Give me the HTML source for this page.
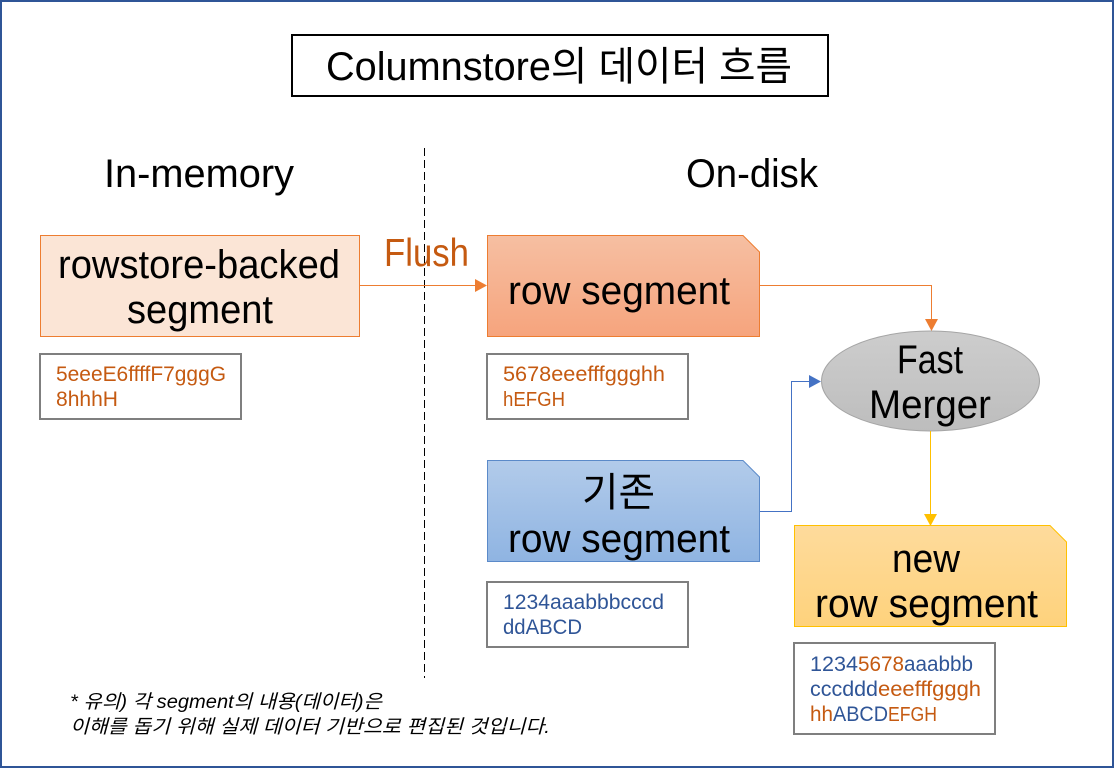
<!DOCTYPE html>
<html lang="ko">
<head>
<meta charset="utf-8">
<style>
html,body{margin:0;padding:0;background:#fff;width:1114px;height:768px;overflow:hidden}
svg{display:block}
text{font-family:"Liberation Sans","Noto Sans CJK KR",sans-serif}
.b{fill:#000;font-size:40px}
.o{fill:#c55a11;font-size:21px}
.u{fill:#2f5597;font-size:21px}
</style>
</head>
<body>
<svg width="1114" height="768" viewBox="0 0 1114 768" xmlns="http://www.w3.org/2000/svg">
<defs>
<linearGradient id="go" x1="0" y1="0" x2="0" y2="1"><stop offset="0" stop-color="#f6bfa2"/><stop offset="1" stop-color="#f6a47d"/></linearGradient>
<linearGradient id="gb" x1="0" y1="0" x2="0" y2="1"><stop offset="0" stop-color="#b2cbea"/><stop offset="1" stop-color="#8fb4e2"/></linearGradient>
<linearGradient id="gy" x1="0" y1="0" x2="0" y2="1"><stop offset="0" stop-color="#fedb9c"/><stop offset="1" stop-color="#fed27c"/></linearGradient>
<linearGradient id="gg" x1="0" y1="0" x2="0" y2="1"><stop offset="0" stop-color="#cdcdcd"/><stop offset="1" stop-color="#bdbdbd"/></linearGradient>
</defs>
<rect x="1" y="1" width="1112" height="766" fill="#fff" stroke="#2f5597" stroke-width="2"/>

<rect x="292" y="35" width="536" height="61" fill="#fff" stroke="#000" stroke-width="2"/>
<text x="326" y="80" class="b" textLength="466" lengthAdjust="spacingAndGlyphs">Columnstore의 데이터 흐름</text>

<text x="104" y="187" class="b" textLength="190" lengthAdjust="spacingAndGlyphs">In-memory</text>
<text x="686" y="187" class="b" textLength="132" lengthAdjust="spacingAndGlyphs">On-disk</text>

<line x1="424.5" y1="148" x2="424.5" y2="678" stroke="#000" stroke-width="1" stroke-dasharray="8 4"/>

<rect x="40.5" y="235.5" width="319" height="101" fill="#fbe5d6" stroke="#ed7d31" stroke-width="1"/>
<text x="58" y="278" class="b" textLength="282" lengthAdjust="spacingAndGlyphs">rowstore-backed</text>
<text x="127" y="323" class="b" textLength="146" lengthAdjust="spacingAndGlyphs">segment</text>

<text x="384" y="266" fill="#c55a11" font-size="39" textLength="85" lengthAdjust="spacingAndGlyphs">Flush</text>

<line x1="360" y1="285.5" x2="476" y2="285.5" stroke="#ed7d31" stroke-width="1"/>
<polygon points="475,279 487,285.5 475,292" fill="#ed7d31"/>

<rect x="40" y="354" width="201" height="65" fill="#fff" stroke="#7f7f7f" stroke-width="2"/>
<text x="56" y="381" class="o" textLength="170" lengthAdjust="spacingAndGlyphs">5eeeE6ffffF7gggG</text>
<text x="56" y="406" class="o" textLength="62" lengthAdjust="spacingAndGlyphs">8hhhH</text>

<polygon points="487.5,235.5 743,235.5 759.5,252 759.5,336.5 487.5,336.5" fill="url(#go)" stroke="#ed7d31" stroke-width="1"/>
<text x="508" y="304" class="b" textLength="222" lengthAdjust="spacingAndGlyphs">row segment</text>

<rect x="487" y="354" width="201" height="65" fill="#fff" stroke="#7f7f7f" stroke-width="2"/>
<text x="503" y="381" class="o" textLength="162" lengthAdjust="spacingAndGlyphs">5678eeefffggghh</text>
<text x="503" y="406" class="o" style="font-size:20px" textLength="62" lengthAdjust="spacingAndGlyphs">hEFGH</text>

<polyline points="760,285.5 931.5,285.5 931.5,320" fill="none" stroke="#ed7d31" stroke-width="1"/>
<polygon points="925,319 938,319 931.5,331" fill="#ed7d31"/>

<ellipse cx="930.5" cy="381" rx="109" ry="50" fill="url(#gg)" stroke="#a5a5a5" stroke-width="1"/>
<text x="897" y="373" class="b" textLength="66" lengthAdjust="spacingAndGlyphs">Fast</text>
<text x="869" y="418" class="b" textLength="122" lengthAdjust="spacingAndGlyphs">Merger</text>

<polygon points="487.5,460.5 743,460.5 759.5,477 759.5,561.5 487.5,561.5" fill="url(#gb)" stroke="#5b8ac9" stroke-width="1"/>
<text x="582" y="506" class="b" textLength="73" lengthAdjust="spacingAndGlyphs">기존</text>
<text x="508" y="552" class="b" textLength="222" lengthAdjust="spacingAndGlyphs">row segment</text>

<polyline points="760,511.5 791.5,511.5 791.5,381.5 810,381.5" fill="none" stroke="#4472c4" stroke-width="1"/>
<polygon points="809,375 821,381.5 809,388" fill="#4472c4"/>

<rect x="487" y="582" width="201" height="65" fill="#fff" stroke="#7f7f7f" stroke-width="2"/>
<text x="503" y="609" class="u" textLength="161" lengthAdjust="spacingAndGlyphs">1234aaabbbcccd</text>
<text x="503" y="634" class="u" textLength="79" lengthAdjust="spacingAndGlyphs">ddABCD</text>

<line x1="930.5" y1="431" x2="930.5" y2="515" stroke="#ffc000" stroke-width="1"/>
<polygon points="924,514 937,514 930.5,526" fill="#ffc000"/>

<polygon points="794.5,525.5 1050,525.5 1066.5,542 1066.5,626.5 794.5,626.5" fill="url(#gy)" stroke="#ffc000" stroke-width="1"/>
<text x="892" y="572" class="b" textLength="68" lengthAdjust="spacingAndGlyphs">new</text>
<text x="815" y="617" class="b" textLength="223" lengthAdjust="spacingAndGlyphs">row segment</text>

<rect x="794" y="643" width="201" height="91" fill="#fff" stroke="#7f7f7f" stroke-width="2"/>
<text x="810" y="671" class="u" textLength="48" lengthAdjust="spacingAndGlyphs">1234</text>
<text x="858" y="671" class="o" textLength="46" lengthAdjust="spacingAndGlyphs">5678</text>
<text x="904" y="671" class="u" textLength="69" lengthAdjust="spacingAndGlyphs">aaabbb</text>
<text x="810" y="696" class="u" textLength="68" lengthAdjust="spacingAndGlyphs">cccddd</text>
<text x="878" y="696" class="o" textLength="103" lengthAdjust="spacingAndGlyphs">eeefffgggh</text>
<text x="810" y="721" class="o" textLength="23" lengthAdjust="spacingAndGlyphs">hh</text>
<text x="833" y="721" class="u" textLength="55" lengthAdjust="spacingAndGlyphs">ABCD</text>
<text x="888" y="721" class="o" style="font-size:20px" textLength="49" lengthAdjust="spacingAndGlyphs">EFGH</text>

<text x="70" y="708" fill="#000" font-size="19" font-style="italic" textLength="312" lengthAdjust="spacingAndGlyphs">* 유의) 각 segment의 내용(데이터)은</text>
<text x="70" y="733" fill="#000" font-size="19" font-style="italic" textLength="480" lengthAdjust="spacingAndGlyphs">이해를 돕기 위해 실제 데이터 기반으로 편집된 것입니다.</text>
</svg>
</body>
</html>
